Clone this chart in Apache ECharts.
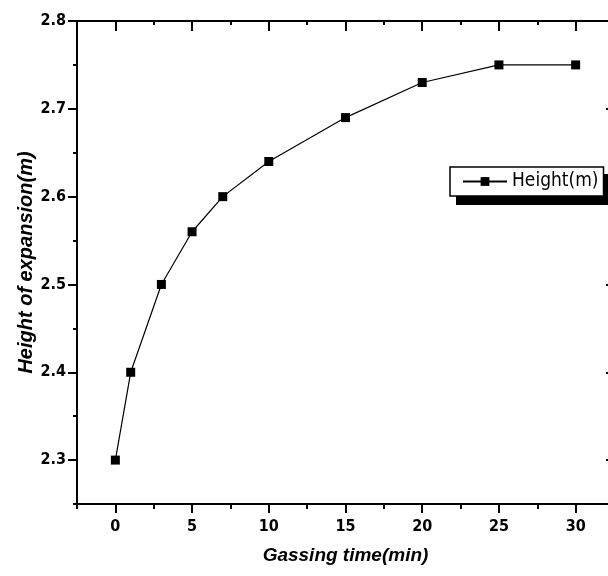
<!DOCTYPE html>
<html>
<head>
<meta charset="utf-8">
<script src="https://cdn.jsdelivr.net/npm/echarts@6/dist/echarts.min.js"></script>
<style>
  html, body { margin: 0; padding: 0; background: #fff; }
  #chart { width: 608px; height: 576px; }
</style>
</head>
<body>
<div id="chart"></div>
<script>
const gassingTime = [0, 1, 3, 5, 7, 10, 15, 20, 25, 30]
const heightValues = [2.30, 2.40, 2.50, 2.56, 2.60, 2.64, 2.69, 2.73, 2.75, 2.75]
const xMajorTicks = [0, 5, 10, 15, 20, 25, 30]
const yMajorTicks = [2.3, 2.4, 2.5, 2.6, 2.7, 2.8]

const narrow = "'DejaVu Sans Condensed', 'Liberation Sans Narrow', 'Liberation Sans', sans-serif"
const tickFont = { fontFamily: narrow, fontWeight: 'bold', fontSize: 16, color: '#000' }
const nameFont = { fontFamily: 'Liberation Sans', fontWeight: 'bold', fontStyle: 'italic', fontSize: 19, color: '#000' }
const black = { color: '#000', width: 2 }

const chart = echarts.init(document.getElementById('chart'))

// each side gets two axes: one for the short minor ticks, one for the long major ticks
const xAxisCommon = { type: 'value', min: -2.5, max: 32.5, splitLine: { show: false } }
const yAxisCommon = { type: 'value', min: 2.25, max: 2.8, splitLine: { show: false } }

chart.setOption({
  backgroundColor: '#fff',
  animation: false,
  grid: { left: 77, right: -6, top: 21, bottom: 72, outerBoundsMode: 'none', containLabel: false },
  // drop shadow behind the legend box
  graphic: [{
    type: 'rect',
    left: 456,
    top: 174,
    shape: { width: 152, height: 31 },
    style: { fill: '#000' },
    z: 1
  }],
  legend: {
    data: ['Height(m)'],
    left: 450,
    top: 167,
    padding: [5, 5, 5, 12],
    itemWidth: 44,
    itemHeight: 11,
    backgroundColor: '#fff',
    borderColor: '#000',
    borderWidth: 1.5,
    borderRadius: 0,
    z: 5,
    textStyle: { fontFamily: narrow, fontSize: 19, color: '#000' }
  },
  xAxis: [
    {
      ...xAxisCommon,
      position: 'bottom',
      interval: 2.5,
      axisLine: { onZero: false, lineStyle: black },
      axisTick: { length: 5, lineStyle: black },
      axisLabel: { show: false },
      name: 'Gassing time(min)',
      nameLocation: 'middle',
      nameGap: 42,
      nameTextStyle: nameFont
    },
    {
      ...xAxisCommon,
      position: 'bottom',
      axisLine: { show: false, onZero: false },
      axisTick: { length: 9, lineStyle: black, customValues: xMajorTicks },
      axisLabel: { ...tickFont, margin: 15, customValues: xMajorTicks }
    },
    {
      ...xAxisCommon,
      position: 'top',
      interval: 2.5,
      axisLine: { onZero: false, lineStyle: black },
      axisTick: { inside: true, length: 4, lineStyle: black },
      axisLabel: { show: false }
    },
    {
      ...xAxisCommon,
      position: 'top',
      axisLine: { show: false, onZero: false },
      axisTick: { inside: true, length: 10, lineStyle: black, customValues: xMajorTicks },
      axisLabel: { show: false }
    }
  ],
  yAxis: [
    {
      ...yAxisCommon,
      position: 'left',
      interval: 0.05,
      axisLine: { onZero: false, lineStyle: black },
      axisTick: { length: 4, lineStyle: black },
      axisLabel: { show: false },
      name: 'Height of expansion(m)',
      nameLocation: 'middle',
      nameGap: 41,
      nameTextStyle: { ...nameFont, fontSize: 20 }
    },
    {
      ...yAxisCommon,
      position: 'left',
      axisLine: { show: false, onZero: false },
      axisTick: { length: 9, lineStyle: black, customValues: yMajorTicks },
      axisLabel: { ...tickFont, margin: 11, customValues: yMajorTicks, formatter: v => v.toFixed(1) }
    },
    {
      ...yAxisCommon,
      position: 'right',
      interval: 0.05,
      axisLine: { onZero: false, lineStyle: black },
      axisTick: { inside: true, length: 4, lineStyle: black },
      axisLabel: { show: false }
    },
    {
      ...yAxisCommon,
      position: 'right',
      axisLine: { show: false, onZero: false },
      axisTick: { inside: true, length: 8, lineStyle: black, customValues: yMajorTicks },
      axisLabel: { show: false }
    }
  ],
  series: [{
    name: 'Height(m)',
    type: 'line',
    xAxisIndex: 0,
    yAxisIndex: 0,
    data: gassingTime.map((t, i) => [t, heightValues[i]]),
    symbol: 'rect',
    symbolSize: 9,
    itemStyle: { color: '#000' },
    lineStyle: { color: '#000', width: 1.2 }
  }]
})
</script>
</body>
</html>
